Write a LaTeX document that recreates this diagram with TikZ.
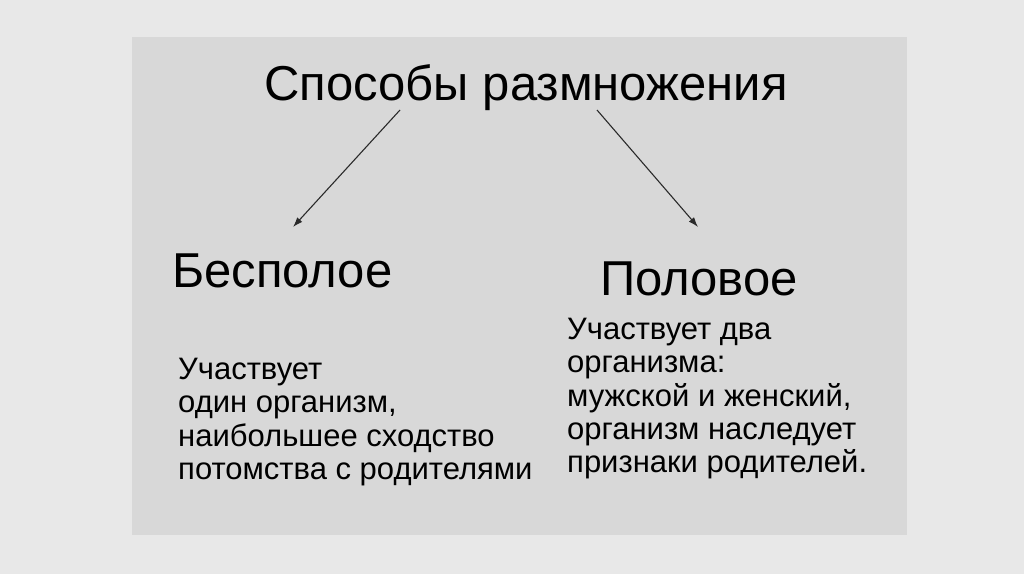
\documentclass[tikz,border=0pt]{standalone}
\usepackage{fontspec}
\setmainfont{Liberation Sans}
\usepackage{xcolor}
\usetikzlibrary{arrows.meta,positioning}

\definecolor{outerbg}{HTML}{E8E8E8}
\definecolor{innerbg}{HTML}{D8D8D8}
\definecolor{inkline}{HTML}{2A2A2A}

\begin{document}
\begin{tikzpicture}[
    x=1pt,y=-1pt,
    head/.style={inner sep=0pt,font=\fontsize{49}{55}\selectfont},
    kind/.style={inner sep=0pt,font=\fontsize{49}{55}\selectfont},
    note/.style={inner sep=0pt,align=left,font=\fontsize{31}{33.3}\selectfont},
    arrow/.style={-{Latex[length=3.5mm,width=2.4mm]},line width=1.1pt,draw=inkline}
]
\useasboundingbox (0,0) rectangle (1024,574);
\fill[outerbg] (0,0) rectangle (1024,574);
\fill[innerbg] (132,37) rectangle (907,535);

\node[head,anchor=base] (title) at (526,100) {Способы размножения};
\node[kind,anchor=base west] (asex) at (172,287) {Бесполое};
\node[kind,anchor=base west] (sex) at (600,295) {Половое};

\node[note,anchor=north west] (asexnote) at (178,358)
    {Участвует\\один организм,\\наибольшее сходство\\потомства с родителями};
\node[note,anchor=north west] (sexnote) at (567,318)
    {Участвует два\\организма:\\мужской и женский,\\организм наследует\\признаки родителей.};

\coordinate (ls) at (400,110);
\coordinate (le) at (293,227);
\coordinate (rs) at (597,110);
\coordinate (re) at (698,227);
\draw[arrow] (ls) -- (le);
\draw[arrow] (rs) -- (re);
\end{tikzpicture}
\end{document}
